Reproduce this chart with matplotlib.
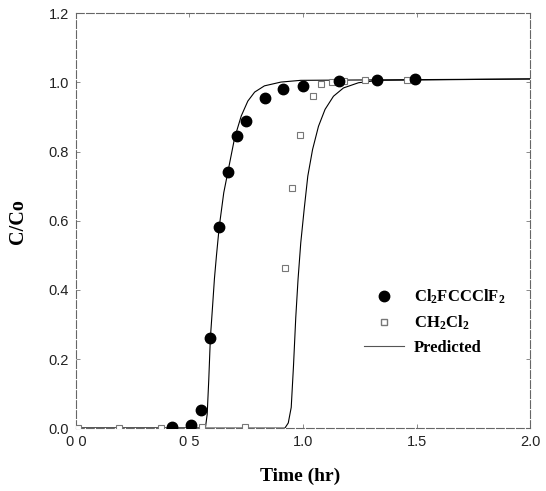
import matplotlib
matplotlib.use("Agg")
import matplotlib.pyplot as plt
from matplotlib.lines import Line2D

plt.rcParams['mathtext.fontset'] = 'custom'
plt.rcParams['mathtext.rm'] = 'Liberation Serif:bold'
plt.rcParams['mathtext.bf'] = 'Liberation Serif:bold'

t_cfc = [0.421, 0.505, 0.550, 0.592, 0.631, 0.668, 0.708, 0.748, 0.832, 0.913, 0.998, 1.160, 1.326, 1.494]
c_cfc = [0.004, 0.008, 0.052, 0.260, 0.582, 0.741, 0.844, 0.887, 0.955, 0.980, 0.991, 1.003, 1.007, 1.009]

t_dcm = [0.01, 0.19, 0.375, 0.555, 0.743, 0.920, 0.950, 0.985, 1.044, 1.077, 1.126, 1.180, 1.272, 1.456]
c_dcm = [0.0, 0.0, 0.0, 0.004, 0.004, 0.463, 0.696, 0.849, 0.960, 0.994, 1.000, 1.005, 1.008, 1.008]

# ---- predicted curves (traced) ----
t_pred1 = [0.0, 0.570, 0.578, 0.585, 0.592, 0.602, 0.610, 0.619, 0.631, 0.651, 0.670,
           0.699, 0.728, 0.757, 0.787, 0.830, 0.903, 0.990, 2.0]
c_pred1 = [0.0, 0.0, 0.04, 0.14, 0.26, 0.355, 0.433, 0.50, 0.582, 0.681, 0.744,
           0.840, 0.903, 0.946, 0.972, 0.990, 1.001, 1.006, 1.010]

t_pred2 = [0.0, 0.920, 0.935, 0.948, 0.958, 0.968, 0.978, 0.990, 1.005, 1.021, 1.042,
           1.068, 1.097, 1.134, 1.178, 1.244, 1.331, 2.0]
c_pred2 = [0.0, 0.0, 0.015, 0.06, 0.18, 0.32, 0.43, 0.536, 0.633, 0.729, 0.806,
           0.873, 0.922, 0.960, 0.984, 0.999, 1.006, 1.010]

fig = plt.figure(figsize=(5.46, 4.91), dpi=100)
ax = fig.add_axes([0.139, 0.128, 0.832, 0.845])

ax.plot(t_pred1, c_pred1, color='black', lw=0.8, zorder=2)
ax.plot(t_pred2, c_pred2, color='black', lw=0.8, zorder=2)
ax.plot(t_cfc, c_cfc, 'o', color='black', ms=7.5, zorder=4)
ax.plot(t_dcm, c_dcm, 's', mfc='white', mec='#777777', mew=0.8, ms=5, zorder=3)

ax.set_xlim(0, 2.0)
ax.set_ylim(0, 1.2)
ax.set_xticks([0.0, 0.5, 1.0, 1.5, 2.0])
ax.set_yticks([0.0, 0.2, 0.4, 0.6, 0.8, 1.0, 1.2])
ax.set_xticklabels(['0 0', '0 5', '1.0', '1.5', '2.0'])
ax.set_yticklabels(['0.0', '0.2', '0.4', '0.6', '0.8', '1.0', '1.2'])

for lbl in ax.get_xticklabels() + ax.get_yticklabels():
    lbl.set_family('Liberation Sans')
    lbl.set_fontsize(10.5)
    lbl.set_color('#222222')

ax.tick_params(direction='in', length=3, width=0.6, color='#777777',
               top=True, right=True, pad=5)

for sp in ax.spines.values():
    sp.set_color('#666666')
    sp.set_linewidth(0.8)
    sp.set_linestyle((0, (7, 2)))

ax.set_xlabel('Time (hr)', family='Liberation Serif', fontweight='bold', fontsize=14)
ax.set_ylabel('C/Co', family='Liberation Serif', fontweight='bold', fontsize=14.5)
ax.xaxis.set_label_coords(0.493, -0.095)
ax.yaxis.set_label_coords(-0.105, 0.497)

handles = [
    Line2D([0], [0], marker='o', color='black', ls='none', ms=7.5),
    Line2D([0], [0], marker='s', mfc='white', mec='#777777', ls='none', ms=5),
    Line2D([0], [0], color='#555555', lw=0.8),
]
labels = [r'$\mathbf{Cl_2FCCClF_2}$', r'$\mathbf{CH_2Cl_2}$', 'Predicted']
leg = ax.legend(handles, labels, loc='center left', bbox_to_anchor=(0.615, 0.256),
                frameon=False, borderpad=0, handlelength=2.4, handletextpad=0.6,
                labelspacing=0.45,
                prop={'family': 'Liberation Serif', 'weight': 'bold', 'size': 12})

fig.savefig('out.png', dpi=100)
